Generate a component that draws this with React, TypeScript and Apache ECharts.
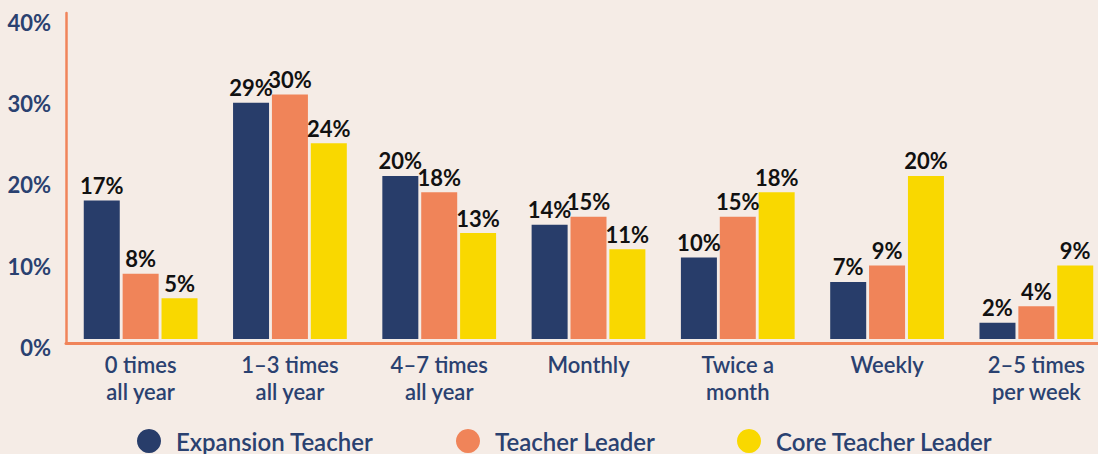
import React, { useEffect, useRef } from "react";
import * as echarts from "echarts";

const categories = [
  "0 times\nall year",
  "1–3 times\nall year",
  "4–7 times\nall year",
  "Monthly",
  "Twice a\nmonth",
  "Weekly",
  "2–5 times\nper week",
];
const seriesNames = ["Expansion Teacher", "Teacher Leader", "Core Teacher Leader"];
const expansionTeacher = [17, 29, 20, 14, 10, 7, 2];
const teacherLeader = [8, 30, 18, 15, 15, 9, 4];
const coreTeacherLeader = [5, 24, 13, 11, 18, 20, 9];
const yTickValues = [0, 10, 20, 30, 40];

const colors = ["#283d6a", "#f08459", "#f9d800"];
const axisColor = "#f0845a";
const textNavy = "#2a4170";
const font = "Lato";

export default function App() {
  const ref = useRef<HTMLDivElement>(null);
  useEffect(() => {
    if (!ref.current) return;
    const chart = echarts.init(ref.current, null, { renderer: "svg" });
    const values = [expansionTeacher, teacherLeader, coreTeacherLeader];
    const legendLefts = [132, 451, 732];
    chart.setOption({
      animation: false,
      backgroundColor: "#f5ece6",
      textStyle: { fontFamily: font },
      grid: { left: 66, right: 0, top: 13, bottom: 111, containLabel: false },
      legend: seriesNames.map((n, i) => ({
        data: [n],
        left: legendLefts[i],
        top: 424,
        icon: "circle",
        itemWidth: 24,
        itemHeight: 24,
        textStyle: {
          color: textNavy,
          fontSize: 24,
          fontWeight: 600,
          fontFamily: font,
          padding: [0, 0, 0, 10],
        },
      })),
      xAxis: {
        type: "category",
        data: categories,
        axisLine: { onZero: false, lineStyle: { color: axisColor, width: 3 } },
        axisTick: { show: false },
        axisLabel: {
          color: textNavy,
          fontSize: 22,
          fontWeight: 600,
          fontFamily: font,
          lineHeight: 27,
          margin: 8,
          interval: 0,
        },
      },
      yAxis: {
        type: "value",
        min: -0.5,
        max: 40,
        axisLine: { show: true, lineStyle: { color: axisColor, width: 2.5 } },
        axisTick: { show: false },
        splitLine: { show: false },
        axisLabel: {
          customValues: yTickValues,
          formatter: "{value}%",
          color: textNavy,
          fontSize: 22,
          fontWeight: "bold",
          fontFamily: font,
          margin: 15,
          verticalAlign: "top",
          lineHeight: 18,
        },
      },
      series: seriesNames.map((n, i) => ({
        name: n,
        type: "bar",
        data: values[i],
        barWidth: 36,
        barGap: "8%",
        itemStyle: { color: colors[i] },
        label: {
          show: true,
          position: "top",
          distance: 4,
          formatter: "{c}%",
          color: "#111",
          fontSize: 22,
          fontWeight: "bold",
          fontFamily: font,
        },
      })),
    });
    return () => chart.dispose();
  }, []);
  return (
    <div style={{ position: "fixed", left: 0, top: 0, width: 1098, height: 454, overflow: "hidden" }}>
      <div ref={ref} style={{ width: 1111, height: 454 }} />
    </div>
  );
}
